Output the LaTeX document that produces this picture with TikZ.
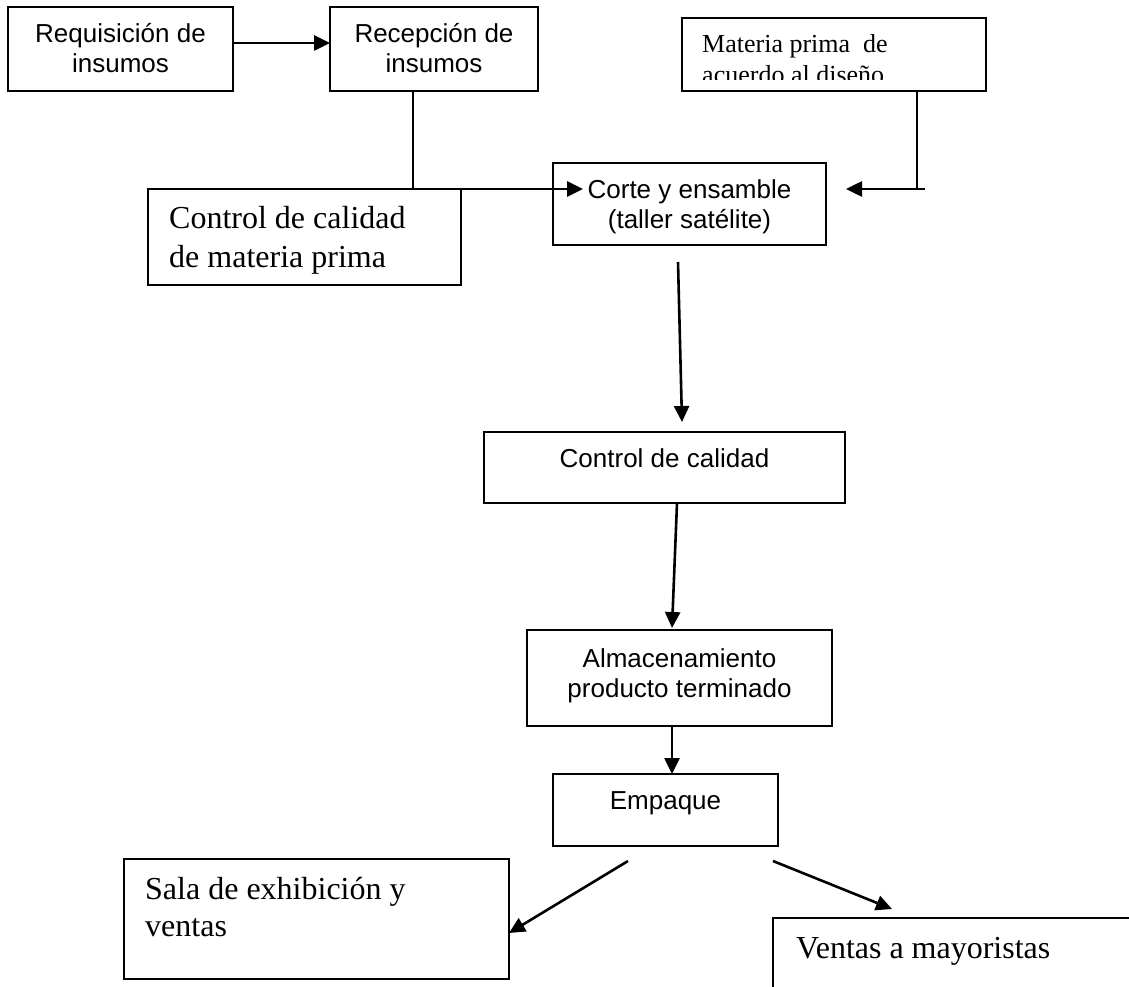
\documentclass[tikz,border=0pt]{standalone}
\usepackage{fontspec}
\setmainfont{Liberation Serif}
\newfontfamily\arialfont{Liberation Sans}
\usetikzlibrary{arrows.meta}
\begin{document}
\begin{tikzpicture}[x=1pt,y=-1pt,
  box/.style={draw, line width=2pt, inner sep=0pt, outer sep=0pt},
  sans/.style={font=\arialfont\fontsize{26}{30}\selectfont, inner sep=0pt, anchor=base},
  serifbig/.style={font=\fontsize{32}{37}\selectfont, inner sep=0pt, anchor=base west},
  serifsmall/.style={font=\fontsize{26}{30}\selectfont, inner sep=0pt, anchor=base west},
  arr/.style={line width=2.6pt, -{Triangle[length=16pt,width=15pt]}},
  plain/.style={line width=2pt}]
\path[use as bounding box] (0,0) rectangle (1129,987);
\clip (0,0) rectangle (1129,987);
\fill[white] (0,0) rectangle (1129,987);

% boxes
\node[box, minimum width=225pt, minimum height=84pt] (req) at (120.5,49) {};
\node[box, minimum width=208pt, minimum height=84pt] (rec) at (434,49) {};
\node[box, minimum width=304pt, minimum height=73pt] (mat) at (834,54.5) {};
\node[box, minimum width=313pt, minimum height=96pt] (ccmp) at (304.5,237) {};
\node[box, minimum width=273pt, minimum height=82pt] (corte) at (689.5,204) {};
\node[box, minimum width=361pt, minimum height=71pt] (cc) at (664.5,467.5) {};
\node[box, minimum width=305pt, minimum height=96pt] (alm) at (679.5,678) {};
\node[box, minimum width=225pt, minimum height=72pt] (emp) at (665.5,810) {};
\node[box, minimum width=385pt, minimum height=120pt] (sala) at (316.5,919) {};
\node[box, minimum width=367pt, minimum height=82pt] (vent) at (956.5,959) {};

% texts
\node[sans] (req1) at (120.5,43) {Requisición de};
\node[sans] (req2) at (120.5,73) {insumos};
\node[sans] (rec1) at (434,43) {Recepción de};
\node[sans] (rec2) at (434,73) {insumos};
\node[serifsmall] (mat1) at (702,53) {Materia prima~ de};
\begin{scope}
  \clip (684,20) rectangle (984,80);
  \node[serifsmall] (mat2) at (702,84) {acuerdo al diseño};
\end{scope}
\node[serifbig] (ccmp1) at (169,228) {Control de calidad};
\node[serifbig] (ccmp2) at (169,267) {de materia prima};
\node[sans] (corte1) at (689.5,199) {Corte y ensamble};
\node[sans] (corte2) at (689.5,228) {(taller satélite)};
\node[sans] (cc1) at (664.5,467) {Control de calidad};
\node[sans] (alm1) at (679.5,667) {Almacenamiento};
\node[sans] (alm2) at (679.5,697) {producto terminado};
\node[sans] (emp1) at (665.5,809) {Empaque};
\node[serifbig] (sala1) at (145,899) {Sala de exhibición y};
\node[serifbig] (sala2) at (145,936) {ventas};
\node[serifbig] (vent1) at (796,958) {Ventas a mayoristas};

% connector coordinates
\coordinate (recout) at ([xshift=-21pt]rec.south);
\coordinate (matout) at ([xshift=83pt]mat.south);
\coordinate (matcorner) at ([xshift=91pt,yshift=15pt]corte.east);
\coordinate (matstub) at ([xshift=99pt,yshift=15pt]corte.east);
\coordinate (ccstart) at ([xshift=132.5pt]ccmp.north);

% connectors
\draw[arr] ([yshift=6pt]req.east) -- ([yshift=6pt]rec.west);
\draw[plain] (recout) -- (recout |- ccmp.north);
\draw[arr] (ccstart) -- ([xshift=30pt,yshift=15pt]corte.west);
\draw[plain] (matout) -- (matout |- matcorner);
\draw[arr] (matstub) -- ([xshift=20pt,yshift=15pt]corte.east);
\draw[arr] ([xshift=-11.5pt,yshift=-17pt]corte.south) -- ([xshift=17.5pt,yshift=10pt]cc.north);
\draw[arr] ([xshift=12.5pt]cc.south) -- ([xshift=-7.5pt,yshift=2pt]alm.north);
\draw[arr] ([xshift=-7.5pt]alm.south) -- ([xshift=6.5pt]emp.north);
\draw[arr] ([xshift=-37.5pt,yshift=-15pt]emp.south) -- ([yshift=-14pt]sala.east);
\draw[arr] ([xshift=107.5pt,yshift=-15pt]emp.south) -- ([xshift=-64.5pt,yshift=9pt]vent.north);
\end{tikzpicture}
\end{document}
